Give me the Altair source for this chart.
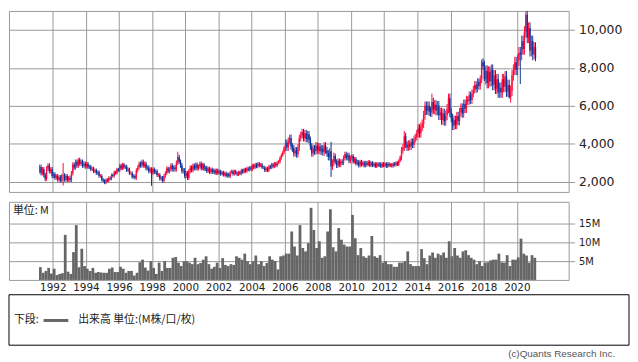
import altair as alt
import pandas as pd

# ---------------- data ----------------
first_open = 2550  # open of March 1991

# monthly closes, March 1991 .. December 1999
close_1990s = [
    2780, 2450, 2650, 2350, 2150, 2700, 2850, 2550, 2650, 2300,
    2400, 2200, 2300, 2100, 2250, 2050, 2320, 2350, 2100, 2300, 2080, 2200,
    2100, 2450, 2900, 2750, 3050, 2850, 3150, 2950, 3050, 2850, 2950, 2800,
    2950, 2750, 2800, 2650, 2700, 2550, 2600, 2450, 2500, 2300, 2300, 2100,
    2050, 1950, 2100, 2050, 2200, 2150, 2350, 2300, 2500, 2450, 2650, 2600,
    2850, 2700, 2900, 2750, 2800, 2600, 2650, 2450, 2450, 2250, 2300, 2200,
    2600, 2750, 2950, 2850, 3050, 2850, 2950, 2700, 2750, 2550, 2650, 2450,
    2650, 2500, 2550, 2350, 2350, 2150, 2200, 2050, 2300, 2450, 2700, 2550,
    2650, 2850, 2650, 2750, 2650, 3000, 3300, 3050, 2850, 2550, 2600, 2300,
]
# monthly closes, 2000 .. 2009
close_2000s = [
    2450, 2200, 2550, 2750, 2600, 2850, 2700, 2900, 2700, 2800, 2950, 2700,
    2900, 2650, 2750, 2550, 2700, 2500, 2650, 2500, 2600, 2450, 2600, 2450,
    2550, 2400, 2500, 2350, 2450, 2300, 2400, 2280, 2500, 2550, 2400, 2550,
    2450, 2380, 2500, 2420, 2600, 2500, 2650, 2550, 2700, 2620, 2750, 2650,
    2850, 2750, 2900, 2800, 2950, 2850, 2900, 2750, 2750, 2600, 2700, 2600,
    2800, 2750, 2900, 2800, 2950, 2850, 3000, 3050, 3250, 3400, 3550, 3800,
    4050, 3800, 4150, 4300, 3850, 3750, 3500, 3650, 3450, 3800, 4300, 4450,
    4600, 4300, 4550, 4250, 4500, 4200, 3850, 3500, 3750, 3600, 3900, 3650,
    3850, 3600, 3750, 3550, 3900, 3650, 3500, 3300, 3600, 2800, 3000, 3350,
    3050, 2850, 3100, 2900, 3050, 3000, 3250, 3450, 3250, 3400, 3100, 3250,
]
# monthly closes, 2010 .. 2019
close_2010s = [
    3350, 3050, 3200, 2950, 3050, 2850, 3050, 2900, 3000, 2850, 3000, 2900,
    3050, 2850, 3000, 2850, 2950, 2800, 2950, 2850, 2950, 2800, 2950, 2850,
    2950, 2800, 2950, 2850, 2900, 2820, 2950, 2880, 3000, 2900, 3100, 3300,
    3650, 3800, 4400, 3950, 3800, 4000, 3850, 4100, 3950, 4250, 4350, 4550,
    4800, 4550, 4900, 5050, 5500, 6000, 5750, 6000, 5700, 5650, 6200, 5800,
    6050, 5750, 6000, 5500, 5650, 5250, 5600, 5200, 5500, 5850, 6400, 5650,
    5350, 4950, 5250, 5000, 5450, 5200, 5650, 5900, 5600, 6100, 5850, 6300,
    6250, 6550, 6300, 6650, 6850, 7100, 6900, 7250, 7050, 7400, 8300, 8100,
    7400, 7850, 7200, 7800, 7300, 7900, 7100, 7600, 6900, 7400, 6700, 6950,
    6700, 7400, 7000, 7550, 6750, 7100, 6450, 6800, 7600, 7900, 8300, 7900,
]
# monthly closes, January 2020 .. February 2021
close_2020s = [
    8400, 8800, 8700, 9400, 9000, 9900, 10800, 9600, 10100, 8900, 9400, 8700,
    9100, 8500,
]

# typical shadow length beyond the body, per year 1991 .. 2021
shadow_by_year = [
    120, 100, 120, 90, 80, 90, 110, 100, 120, 110,
    90, 80, 80, 90, 90, 180, 180, 180, 130, 100,
    80, 80, 180, 230, 250, 230, 200, 280, 280, 300,
    250,
]

# long shadows visible in the reference (these replace the typical shadow)
wick_high = {"1992-08": 2980, "1993-07": 3240, "1999-07": 3580, "2008-10": 4100,
             "2013-03": 4680, "2014-11": 6640, "2015-11": 6640, "2017-11": 8440,
             "2020-07": 10970}
wick_low = {"1992-08": 1800, "1997-12": 1780, "2008-10": 2250, "2018-01": 7300,
            "2019-07": 6380, "2020-03": 7150, "2021-02": 8350}

# volume in millions, two-month buckets starting March 1991
vol_1990s = [
    3.4, 1.9, 2.4, 3.2, 1.7,
    3.0, 1.3, 1.6, 1.8, 12.0, 2.2,
    1.6, 7.4, 14.6, 3.4, 8.3, 3.7,
    3.0, 2.4, 3.2, 1.9, 2.1, 2.0,
    1.9, 1.9, 3.0, 3.3, 2.1, 2.1,
    3.5, 3.0, 1.9, 2.4, 2.4, 1.2,
    1.9, 4.7, 5.4, 3.3, 2.5, 5.0,
    3.2, 1.6, 4.6, 2.4, 5.0, 3.2,
    3.2, 5.9, 6.1, 4.6, 3.7, 5.0,
]
vol_2000s = [
    5.0, 4.6, 4.2, 5.9, 4.2, 4.5,
    5.4, 6.3, 4.2, 3.0, 3.5, 4.6,
    3.2, 5.8, 4.0, 3.7, 4.2, 4.0,
    6.3, 5.9, 5.4, 7.0, 5.0, 4.2,
    5.0, 6.5, 4.2, 5.0, 3.7, 4.5,
    6.3, 5.4, 5.0, 2.8, 6.3, 6.5,
    7.0, 7.0, 12.9, 8.9, 6.5, 14.6,
    8.5, 7.6, 9.8, 19.2, 13.3, 8.5,
    10.3, 5.9, 6.3, 12.9, 18.8, 8.7,
    7.6, 13.8, 10.7, 9.4, 8.9, 8.9,
]
vol_2010s = [
    17.3, 11.1, 6.6, 8.5, 6.3, 5.9,
    6.5, 11.7, 6.3, 5.9, 6.6, 4.6,
    5.0, 4.2, 4.2, 3.5, 3.5, 4.6,
    4.6, 5.0, 7.6, 4.2, 3.7, 3.7,
    3.7, 8.2, 5.8, 4.2, 6.5, 7.3,
    5.9, 7.0, 6.6, 7.3, 5.9, 10.3,
    6.3, 8.5, 6.5, 5.9, 7.6, 7.9,
    6.6, 5.9, 5.4, 4.2, 5.0, 3.7,
    4.6, 4.7, 5.2, 5.4, 5.4, 7.0,
    4.7, 4.6, 6.6, 3.7, 5.4, 5.4,
]
vol_2020s = [6.0, 11.0, 7.0, 6.5, 4.6, 6.6, 5.9]

price_ticks = [2000, 4000, 6000, 8000, 10000]
vol_ticks = [5, 10, 15]
year_ticks = list(range(1992, 2022, 2))

RED = "#ff0a3c"
BLUE = "#0a3399"
GRID = "#999999"
PMAX = 11000

# ---------------- tables ----------------
closes = close_1990s + close_2000s + close_2010s + close_2020s
rows = []
prev = first_open
for i, c in enumerate(closes):
    yr = 1991 + (2 + i) // 12
    mo = (2 + i) % 12 + 1
    key = f"{yr}-{mo:02d}"
    t = yr + (mo - 1) / 12
    o = prev
    pad = shadow_by_year[yr - 1991]
    hi = wick_high[key] if key in wick_high else max(o, c) + pad
    lo = wick_low[key] if key in wick_low else min(o, c) - pad
    hi = min(hi, PMAX)
    rows.append({"t": t, "t2": t + 1 / 12, "tm": t + 1 / 24, "open": o, "close": c,
                 "high": hi, "low": lo, "dir": "up" if c >= o else "down"})
    prev = c
price_df = pd.DataFrame(rows)

vols = vol_1990s + vol_2000s + vol_2010s + vol_2020s
vol_df = pd.DataFrame({
    "t": [1991 + 2 / 12 + k * 2 / 12 for k in range(len(vols))],
    "vol": vols,
})
vol_df["t2"] = vol_df["t"] + 2 / 12

# ---------------- scales ----------------
xscale = alt.Scale(domain=[1989.357, 2023.128], nice=False, zero=False)
pscale = alt.Scale(domain=[1460, PMAX], nice=False, zero=False)
vscale = alt.Scale(domain=[0, 20.8], nice=False, zero=False)
cscale = alt.Scale(domain=["up", "down"], range=[RED, BLUE])

W = 566

# ---------------- price panel ----------------
pbase = alt.Chart(price_df)
wicks = pbase.mark_rule(strokeWidth=1).encode(
    x=alt.X("tm:Q", scale=xscale,
            axis=alt.Axis(values=year_ticks, labels=False, ticks=False, domain=False,
                          grid=True, gridColor=GRID, gridOpacity=1, title=None)),
    y=alt.Y("low:Q", scale=pscale,
            axis=alt.Axis(orient="right", values=price_ticks, format=",d", title=None,
                          grid=True, gridColor=GRID, gridOpacity=1, domain=False,
                          ticks=True, tickColor=GRID, tickSize=6, labelPadding=4,
                          labelFont="DejaVu Sans", labelFontSize=12.5, labelColor="#222")),
    y2="high:Q",
    color=alt.Color("dir:N", scale=cscale, legend=None),
)
bodies = pbase.mark_rect().encode(
    x="t:Q", x2="t2:Q", y="open:Q", y2="close:Q",
    color=alt.Color("dir:N", scale=cscale, legend=None),
)
price = alt.layer(wicks, bodies).properties(width=W, height=183)

# ---------------- volume panel ----------------
bars = alt.Chart(vol_df).mark_rect(color="#666666").encode(
    x=alt.X("t:Q", scale=xscale,
            axis=alt.Axis(values=year_ticks, format="d", title=None, ticks=False,
                          domain=False, grid=True, gridColor=GRID, gridOpacity=1,
                          labelPadding=3, labelFont="DejaVu Sans", labelFontSize=10.5,
                          labelColor="#222")),
    x2="t2:Q",
    y=alt.Y("vol:Q", scale=vscale,
            axis=alt.Axis(orient="right", values=vol_ticks, title=None,
                          labelExpr="datum.value + 'M'", grid=True, gridColor=GRID,
                          gridOpacity=1, domain=False, ticks=True, tickColor=GRID,
                          tickSize=6, labelPadding=4, labelFont="DejaVu Sans",
                          labelFontSize=10, labelColor="#222")),
    y2=alt.datum(0),
)

one = pd.DataFrame({"a": [0]})
unit_txt = alt.Chart(pd.DataFrame({"s": ["単位: M"]})).mark_text(
    align="left", baseline="middle", font="Noto Sans CJK JP", fontSize=11, color="#222"
).encode(x=alt.value(4), y=alt.value(9), text="s:N")

legend_box = alt.Chart(one).mark_rect(fill="white", stroke="#000", strokeWidth=1).encode(
    x=alt.value(0), x2=alt.value(627), y=alt.value(94), y2=alt.value(145))
legend_line = alt.Chart(one).mark_rule(color="#666666", strokeWidth=3).encode(
    x=alt.value(35), x2=alt.value(60), y=alt.value(120))
legend_lbl = alt.Chart(pd.DataFrame({"s": ["下段:"]})).mark_text(
    align="left", baseline="middle", font="Noto Sans CJK JP", fontSize=11, color="#222"
).encode(x=alt.value(5), y=alt.value(120), text="s:N")
legend_txt = alt.Chart(pd.DataFrame({"s": ["出来高 単位:(M株/口/枚)"]})).mark_text(
    align="left", baseline="middle", font="Noto Sans CJK JP", fontSize=11, color="#222"
).encode(x=alt.value(70), y=alt.value(120), text="s:N")
copyright_txt = alt.Chart(pd.DataFrame({"s": ["(c)Quants Research Inc."]})).mark_text(
    align="right", baseline="middle", font="Liberation Sans", fontSize=10, color="#555"
).encode(x=alt.value(613), y=alt.value(154), text="s:N")

volume = alt.layer(bars, unit_txt, legend_box, legend_line, legend_lbl, legend_txt,
                   copyright_txt).properties(width=W, height=79)

chart = alt.vconcat(price, volume, spacing=10, bounds="flush").properties(
    padding={"left": 0, "top": 0, "right": 0, "bottom": 0},
    background="white",
).configure_view(stroke=GRID, strokeWidth=1)

chart.save("out.html", embed_options={"renderer": "svg", "actions": False})
